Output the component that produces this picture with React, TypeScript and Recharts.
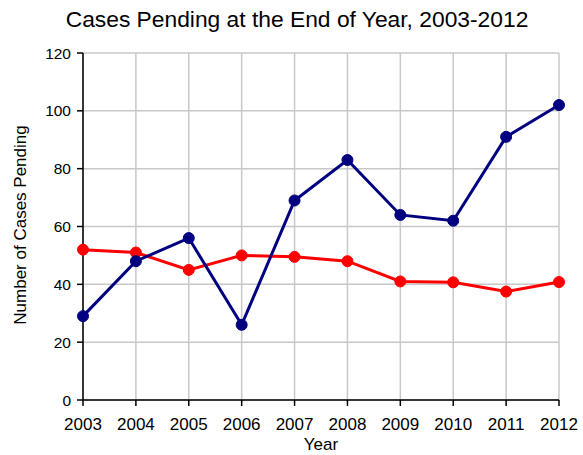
import React from "react";
import { LineChart, Line, XAxis, YAxis, CartesianGrid, Label } from "recharts";

const years = [2003, 2004, 2005, 2006, 2007, 2008, 2009, 2010, 2011, 2012];
const blueSeries = [29, 48, 56, 26, 69, 83, 64, 62, 91, 102];
const redSeries = [52, 51, 45, 50, 49.5, 48, 41, 40.7, 37.5, 40.8];
const yTicks = [0, 20, 40, 60, 80, 100, 120];

const data = years.map((y, i) => ({ year: y, blue: blueSeries[i], red: redSeries[i] }));

const FONT = "'Liberation Sans', Arial, sans-serif";

const YLabel = () => {
  const cx = 20;
  const cy = 225;
  return (
    <text
      x={cx}
      y={cy}
      transform={`rotate(-90, ${cx}, ${cy})`}
      textAnchor="middle"
      dominantBaseline="central"
      fontSize={17}
      fontFamily={FONT}
      fill="#000"
    >
      Number of Cases Pending
    </text>
  );
};

export default function App() {
  return (
    <div style={{ position: "absolute", left: 0, top: 0, width: 583, height: 455, background: "#fff" }}>
      <LineChart
        width={583}
        height={455}
        data={data}
        margin={{ top: 53, right: 24, left: 0, bottom: 0 }}
      >
        <CartesianGrid stroke="#c8c8c8" strokeWidth={1.5} vertical horizontal />
        <XAxis
          dataKey="year"
          type="number"
          domain={[2003, 2012]}
          ticks={years}
          height={55}
          stroke="#000"
          strokeWidth={1.5}
          tickSize={6}
          tickMargin={12}
          tick={{ fill: "#000", fontSize: 17, fontFamily: FONT }}
          interval={0}
        >
          <Label value="Year" position="insideBottom" offset={5} fill="#000" fontSize={17} fontFamily={FONT} />
        </XAxis>
        <YAxis
          domain={[0, 120]}
          ticks={yTicks}
          width={83}
          stroke="#000"
          strokeWidth={1.5}
          tickSize={6}
          tickMargin={6}
          tick={{ fill: "#000", fontSize: 15.5, fontFamily: FONT }}
          interval={0}
        >
          <Label content={YLabel} />
        </YAxis>
        <Line
          dataKey="red"
          stroke="#ff0000"
          strokeWidth={3}
          dot={{ r: 5.5, fill: "#ff0000", stroke: "#ff0000", strokeWidth: 1 }}
          isAnimationActive={false}
        />
        <Line
          dataKey="blue"
          stroke="#000080"
          strokeWidth={3}
          dot={{ r: 5.5, fill: "#000080", stroke: "#000080", strokeWidth: 1 }}
          isAnimationActive={false}
        />
      </LineChart>
      <svg width={583} height={50} style={{ position: "absolute", left: 0, top: 0, pointerEvents: "none" }}>
        <text x={297} y={27} textAnchor="middle" fontSize={22.8} fontFamily={FONT} fill="#000">
          Cases Pending at the End of Year, 2003-2012
        </text>
      </svg>
    </div>
  );
}
